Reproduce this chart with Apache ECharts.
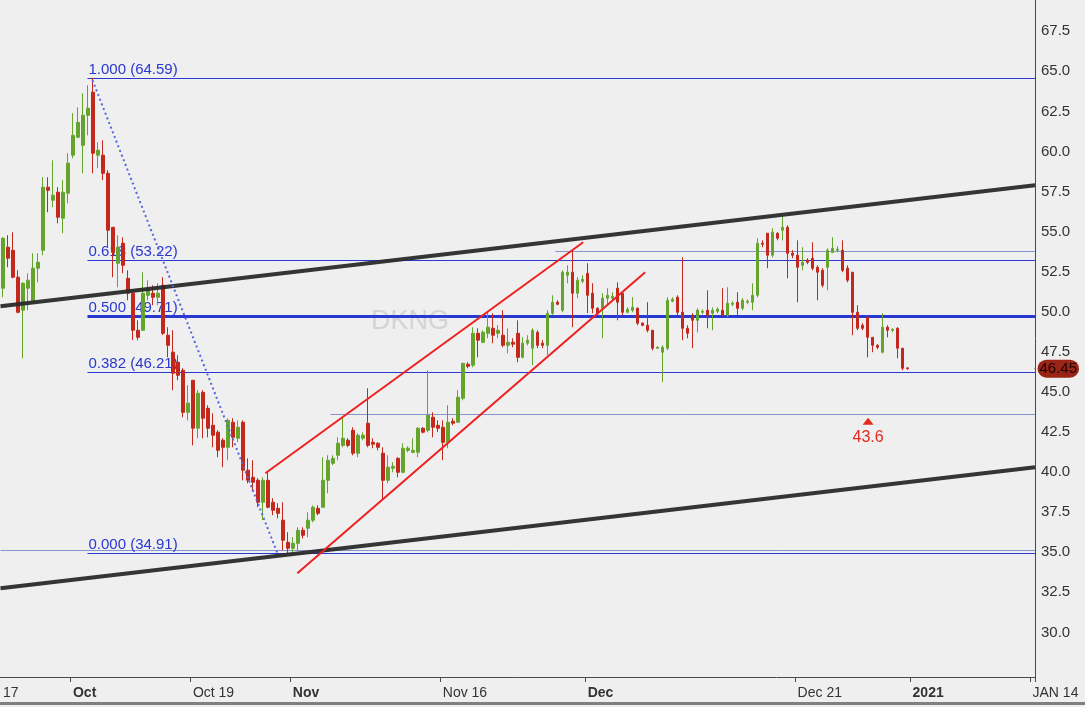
<!DOCTYPE html>
<html>
<head>
<meta charset="utf-8">
<title>DKNG</title>
<script src="https://cdn.jsdelivr.net/npm/echarts@6/dist/echarts.min.js"></script>
<style>
  html, body { margin: 0; padding: 0; background: #efefef; }
  #chart { width: 1085px; height: 707px; }
</style>
</head>
<body>
<div id="chart"></div>
<script>
// one candle per slot
var opens = [
  51.47, 54.03, 53.84, 52.16, 50.10, 51.47, 50.60, 52.72, 53.84, 57.77,
  56.96, 57.46, 55.84, 57.40, 59.77, 60.89, 60.39, 62.26, 63.70, 59.77,
  59.77, 58.64, 55.27, 53.03, 54.28, 52.09, 51.16, 48.85, 48.85, 51.03,
  51.16, 50.91, 51.66, 48.54, 47.48, 46.85, 46.35, 43.73, 45.73, 42.74,
  44.98, 43.98, 42.92, 42.49, 41.99, 41.55, 43.11, 42.11, 43.11, 40.12,
  39.68, 39.49, 38.12, 39.49, 38.12, 37.74, 37.00, 35.62, 35.25, 35.56,
  36.37, 36.50, 37.00, 37.74, 37.81, 39.49, 40.55, 41.05, 41.67, 41.99,
  42.61, 41.18, 42.11, 43.05, 41.86, 41.80, 41.18, 39.49, 40.24, 40.86,
  39.99, 41.36, 41.24, 41.24, 42.74, 42.61, 43.42, 42.92, 42.80, 41.86,
  43.17, 43.11, 44.61, 46.73, 46.67, 48.66, 48.10, 48.66, 48.97, 48.66,
  48.54, 47.91, 48.10, 48.66, 47.16, 48.04, 47.73, 48.72, 48.04, 47.91,
  49.91, 50.60, 50.10, 52.28, 52.47, 51.16, 51.91, 52.40, 51.16, 50.22,
  50.22, 50.85, 50.85, 51.47, 51.16, 49.97, 50.10, 50.22, 49.29, 49.16,
  48.85, 47.73, 47.48, 47.73, 50.66, 50.91, 49.97, 48.97, 49.78, 49.47,
  49.97, 50.10, 49.91, 50.03, 50.10, 49.78, 50.47, 50.60, 50.22, 50.60,
  50.60, 51.03, 54.28, 54.90, 53.53, 54.90, 55.09, 55.27, 53.65, 53.53,
  52.90, 53.22, 53.34, 52.78, 52.59, 52.78, 53.71, 53.84, 53.84, 52.72,
  52.47, 49.97, 49.16, 49.66, 48.41, 47.91, 47.48, 49.04, 48.85, 48.97,
  47.73, 46.50
];
var closes = [
  54.59, 53.34, 52.16, 49.97, 51.78, 51.97, 52.72, 53.09, 57.77, 57.58,
  57.27, 55.90, 57.46, 59.27, 61.01, 61.82, 62.26, 62.70, 59.89, 60.08,
  58.64, 55.09, 53.71, 54.03, 52.90, 51.16, 48.85, 48.41, 51.16, 51.47,
  50.91, 51.16, 48.66, 47.91, 46.17, 46.04, 43.73, 44.30, 42.74, 44.92,
  43.36, 42.74, 42.30, 41.36, 41.55, 43.23, 42.17, 42.80, 40.12, 39.49,
  39.37, 38.12, 39.49, 37.81, 37.62, 37.43, 35.75, 35.25, 35.56, 36.37,
  36.06, 37.00, 37.81, 37.43, 39.49, 40.74, 40.86, 41.80, 42.11, 41.67,
  41.18, 42.30, 42.30, 41.67, 41.74, 41.55, 39.49, 40.30, 40.36, 39.99,
  41.49, 41.49, 41.36, 42.74, 42.49, 43.55, 42.80, 42.74, 41.86, 43.11,
  43.05, 44.67, 46.79, 46.60, 48.66, 48.23, 48.72, 49.04, 48.54, 48.85,
  47.91, 48.10, 47.98, 47.16, 48.04, 48.23, 48.85, 47.91, 47.91, 49.91,
  50.60, 50.47, 52.47, 52.47, 51.16, 51.97, 52.03, 51.03, 50.22, 49.91,
  50.85, 51.03, 50.97, 50.60, 49.97, 50.16, 50.28, 49.29, 49.16, 48.85,
  47.73, 47.79, 47.79, 50.72, 50.78, 49.97, 48.97, 48.66, 49.47, 50.10,
  50.03, 49.78, 50.10, 50.16, 49.78, 50.53, 50.53, 50.22, 50.72, 50.66,
  51.03, 54.28, 54.21, 53.53, 54.96, 54.59, 55.27, 53.65, 53.53, 52.78,
  53.09, 53.09, 52.72, 52.47, 51.66, 53.84, 53.96, 53.90, 52.59, 51.97,
  49.97, 48.97, 48.97, 48.41, 47.91, 47.79, 49.04, 48.85, 48.91, 47.73,
  46.48, 46.45
];
var lows = [
  50.91, 52.78, 52.09, 49.91, 47.10, 50.10, 50.53, 51.84, 53.53, 56.21,
  56.52, 55.52, 54.90, 56.77, 59.58, 60.83, 58.64, 61.01, 58.64, 58.96,
  58.21, 54.03, 52.16, 51.53, 52.40, 50.72, 48.23, 48.23, 48.85, 50.72,
  50.41, 50.41, 48.54, 47.16, 45.11, 45.73, 43.42, 43.23, 41.67, 42.11,
  42.11, 42.17, 41.55, 40.93, 40.30, 40.74, 41.55, 41.86, 39.49, 39.30,
  38.87, 37.81, 37.00, 37.74, 37.31, 37.12, 35.12, 34.91, 35.00, 35.12,
  35.87, 35.94, 36.87, 37.31, 37.81, 38.68, 40.43, 40.74, 41.55, 41.55,
  41.05, 40.93, 41.99, 41.55, 41.49, 41.36, 38.24, 39.30, 39.99, 39.68,
  39.93, 41.24, 41.18, 40.93, 42.42, 42.49, 42.17, 42.49, 40.74, 41.49,
  42.92, 43.11, 44.48, 46.48, 46.54, 47.16, 48.04, 48.35, 48.04, 48.35,
  47.79, 47.41, 47.79, 46.85, 47.10, 47.91, 46.67, 47.73, 47.73, 47.29,
  49.78, 50.41, 49.97, 51.78, 49.04, 50.85, 51.78, 49.91, 49.91, 49.78,
  48.35, 50.41, 50.72, 49.47, 49.78, 49.91, 49.97, 49.16, 49.10, 48.72,
  47.60, 47.67, 45.61, 47.60, 50.60, 49.78, 48.23, 48.35, 47.73, 48.72,
  49.85, 48.97, 48.85, 49.91, 49.78, 49.66, 50.35, 49.78, 50.10, 50.47,
  50.10, 50.91, 54.03, 52.72, 53.40, 54.46, 54.46, 52.09, 53.34, 50.60,
  52.59, 52.97, 52.59, 50.72, 51.53, 51.34, 53.65, 53.71, 52.47, 51.84,
  48.54, 48.85, 48.85, 47.16, 47.48, 47.67, 47.41, 48.41, 48.72, 47.10,
  46.35, 46.40
];
var highs = [
  54.65, 54.78, 54.96, 52.59, 51.84, 52.40, 53.65, 53.65, 58.39, 58.39,
  59.45, 57.77, 58.21, 59.89, 62.39, 62.76, 63.63, 64.13, 64.59, 60.58,
  60.70, 58.83, 55.27, 54.78, 54.65, 52.59, 51.34, 49.47, 52.47, 51.97,
  51.66, 51.78, 52.16, 49.04, 48.85, 47.29, 46.48, 45.42, 45.73, 45.11,
  45.11, 44.17, 43.67, 42.61, 42.11, 43.36, 43.36, 43.23, 43.23, 40.86,
  40.74, 39.62, 39.68, 39.99, 38.37, 38.06, 38.12, 36.25, 35.94, 36.56,
  36.56, 37.50, 37.93, 37.93, 40.93, 41.05, 41.05, 42.17, 43.42, 42.11,
  42.80, 42.42, 42.49, 45.23, 42.11, 41.86, 41.55, 41.05, 40.61, 40.93,
  41.80, 41.61, 42.11, 42.80, 42.80, 46.35, 43.73, 43.23, 43.23, 44.17,
  43.36, 45.11, 46.79, 46.85, 49.04, 48.97, 48.85, 49.97, 49.91, 49.16,
  50.10, 48.97, 48.35, 49.47, 48.41, 48.54, 48.97, 48.85, 48.23, 50.10,
  51.03, 50.72, 52.59, 52.90, 53.84, 52.16, 52.28, 53.03, 51.78, 50.28,
  51.16, 51.47, 51.22, 51.84, 51.22, 50.28, 50.91, 50.28, 49.35, 50.60,
  48.85, 47.85, 47.91, 50.91, 50.91, 51.03, 53.40, 49.16, 49.91, 50.22,
  50.16, 51.34, 50.28, 50.28, 51.47, 51.53, 50.66, 51.22, 50.85, 50.78,
  51.78, 54.59, 54.46, 54.90, 55.21, 54.96, 56.02, 55.40, 53.84, 54.46,
  54.03, 53.34, 54.34, 52.90, 52.72, 53.96, 54.65, 54.09, 54.46, 52.90,
  52.47, 50.41, 49.29, 49.78, 48.41, 47.98, 49.91, 49.16, 48.97, 49.04,
  47.73, 46.55
];

// x axis: slots and the dates shown under them
var slotCount = 207;
var tickSlots = [0, 14, 38, 58, 88, 117, 159, 182, 206];
var tickLabels = ['17', 'Oct', 'Oct 19', 'Nov', 'Nov 16', 'Dec', 'Dec 21', '2021', 'JAN 14'];
var boldLabels = ['Oct', 'Nov', 'Dec', '2021'];

// y axis labels
var yTicks = [30, 32.5, 35, 37.5, 40, 42.5, 45, 47.5, 50, 52.5, 55, 57.5, 60, 62.5, 65, 67.5];

// fibonacci retracement
var fibNames = ['1.000', '0.618', '0.500', '0.382', '0.000'];
var fibValues = [64.59, 53.22, 49.71, 46.21, 34.91];
var fibStart = 16.9;

// thin horizontal levels: start slot, value
var levelStarts = [110.5, 65.5, -0.5];
var levelValues = [53.78, 43.6, 35.15];

// drawn trend lines: [slot0, value0, slot1, value1]
var channelLines = [[-0.5, 50.35, 206.5, 57.89], [-0.5, 32.75, 206.5, 40.30]];
var redLines = [[52.5, 39.93, 116.1, 54.34], [58.9, 33.69, 128.5, 52.47]];
var retraceLine = [17.9, 64.45, 54.9, 34.95];

var target = [173.1, 43.17];
var targetLabel = '43.6';
var lastPrice = 46.45;

var slots = [];
for (var i = 0; i < slotCount; i++) slots.push(String(i));

var candles = opens.map(function (o, k) {
  return [o, closes[k], lows[k], highs[k]];
});

var narrow = "'Liberation Sans Narrow', 'Arial Narrow', 'Liberation Sans', sans-serif";
var sans = "'Liberation Sans', Arial, sans-serif";
var green = '#64a42c';
var red = '#c2281c';
var blue = '#2838d0';

function seg(a, style) {
  return { coords: [[a[0], a[1]], [a[2], a[3]]], lineStyle: style };
}

var chart = echarts.init(document.getElementById('chart'));

chart.setOption({
  backgroundColor: '#efefef',
  animation: false,
  title: {
    text: 'DKNG',
    left: 366,
    top: 303,
    z: 0,
    textStyle: { color: '#d4d4d4', fontSize: 27, fontWeight: 'normal', fontFamily: sans }
  },
  grid: { left: 0, right: 50, top: 0, bottom: 30 },
  xAxis: [
    {
      type: 'category',
      data: slots,
      boundaryGap: true,
      axisLine: { onZero: false, lineStyle: { color: '#4a4a4a', width: 1 } },
      axisTick: {
        show: true,
        inside: false,
        alignWithLabel: false,
        length: 5,
        lineStyle: { color: '#4a4a4a', width: 1 },
        interval: function (idx) { return idx > 0 && tickSlots.indexOf(idx) >= 0; }
      },
      axisLabel: {
        interval: function (idx) { return tickSlots.indexOf(idx) >= 0; },
        align: 'left',
        margin: 9,
        color: '#333',
        fontSize: 14,
        fontFamily: narrow,
        formatter: function (v, idx) {
          var t = tickLabels[tickSlots.indexOf(idx)];
          return boldLabels.indexOf(t) >= 0 ? '{b|' + t + '}' : t;
        },
        rich: {
          b: { fontWeight: 'bold', fontSize: 14, fontFamily: narrow, color: '#333' }
        }
      }
    },
    { type: 'value', min: -0.5, max: 206.5, show: false }
  ],
  yAxis: {
    type: 'value',
    position: 'right',
    min: 27.22,
    max: 69.45,
    splitLine: { show: false },
    axisTick: { show: false },
    axisLine: { show: true, onZero: false, lineStyle: { color: '#4a4a4a', width: 1 } },
    axisLabel: {
      customValues: yTicks,
      margin: 6,
      color: '#333',
      fontSize: 15,
      fontFamily: sans,
      formatter: function (v) { return v.toFixed(1); }
    }
  },
  series: [
    {
      // fib levels, under the candles
      type: 'lines',
      coordinateSystem: 'cartesian2d',
      xAxisIndex: 1,
      yAxisIndex: 0,
      z: 1,
      silent: true,
      lineStyle: { color: blue, width: 1, opacity: 1 },
      label: {
        show: true,
        position: 'insideStartTop',
        distance: [1, 1],
        color: blue,
        fontSize: 15,
        fontFamily: sans
      },
      data: fibValues.map(function (v, k) {
        return {
          coords: [[fibStart, v], [206.5, v]],
          lineStyle: { width: v === 49.71 ? 3 : 1.2 },
          label: { formatter: fibNames[k] + ' (' + v.toFixed(2) + ')' }
        };
      })
    },
    {
      type: 'lines',
      coordinateSystem: 'cartesian2d',
      xAxisIndex: 1,
      yAxisIndex: 0,
      z: 1,
      silent: true,
      lineStyle: { color: '#8495d0', width: 1, opacity: 1 },
      data: levelValues.map(function (v, k) {
        return { coords: [[levelStarts[k], v], [206.5, v]] };
      })
    },
    {
      name: 'DKNG',
      type: 'candlestick',
      xAxisIndex: 0,
      yAxisIndex: 0,
      z: 2,
      barWidth: 3,
      data: candles,
      itemStyle: {
        color: green,
        color0: red,
        borderColor: green,
        borderColor0: red,
        borderWidth: 1
      }
    },
    {
      // trend channel and the rising red channel
      type: 'lines',
      coordinateSystem: 'cartesian2d',
      xAxisIndex: 1,
      yAxisIndex: 0,
      z: 3,
      silent: true,
      data: [
        seg(channelLines[0], { color: '#2a2a2a', width: 4, opacity: 0.95 }),
        seg(channelLines[1], { color: '#2a2a2a', width: 4, opacity: 0.95 }),
        seg(redLines[0], { color: '#ee2020', width: 2, opacity: 1 }),
        seg(redLines[1], { color: '#ee2020', width: 2, opacity: 1 }),
        seg(retraceLine, { color: '#5565dc', width: 2, type: [2, 3], opacity: 1 })
      ]
    },
    {
      type: 'scatter',
      xAxisIndex: 1,
      yAxisIndex: 0,
      z: 4,
      silent: true,
      symbol: 'triangle',
      symbolSize: [11, 7],
      itemStyle: { color: '#e5291d', opacity: 1 },
      label: {
        show: true,
        position: 'bottom',
        distance: 5,
        formatter: targetLabel,
        color: '#e5291d',
        fontSize: 16,
        fontFamily: sans
      },
      data: [target]
    },
    {
      // last price tag sitting on the price axis
      type: 'scatter',
      xAxisIndex: 1,
      yAxisIndex: 0,
      z: 6,
      clip: false,
      silent: true,
      symbol: 'rect',
      symbolSize: [1, 1],
      itemStyle: { color: '#9a2416', opacity: 1 },
      label: {
        show: true,
        position: 'right',
        distance: 2,
        formatter: lastPrice.toFixed(2),
        color: '#1e0300',
        textBorderWidth: 0,
        textShadowBlur: 0,
        opacity: 1,
        fontSize: 15,
        fontFamily: sans,
        backgroundColor: '#9a2416',
        borderRadius: 9,
        padding: [2, 2, 1, 2]
      },
      data: [[206.5, lastPrice]]
    }
  ],
  graphic: [
    { type: 'rect', left: 0, top: 702, shape: { width: 1085, height: 3 }, style: { fill: '#808080' } }
  ]
});
</script>
</body>
</html>
